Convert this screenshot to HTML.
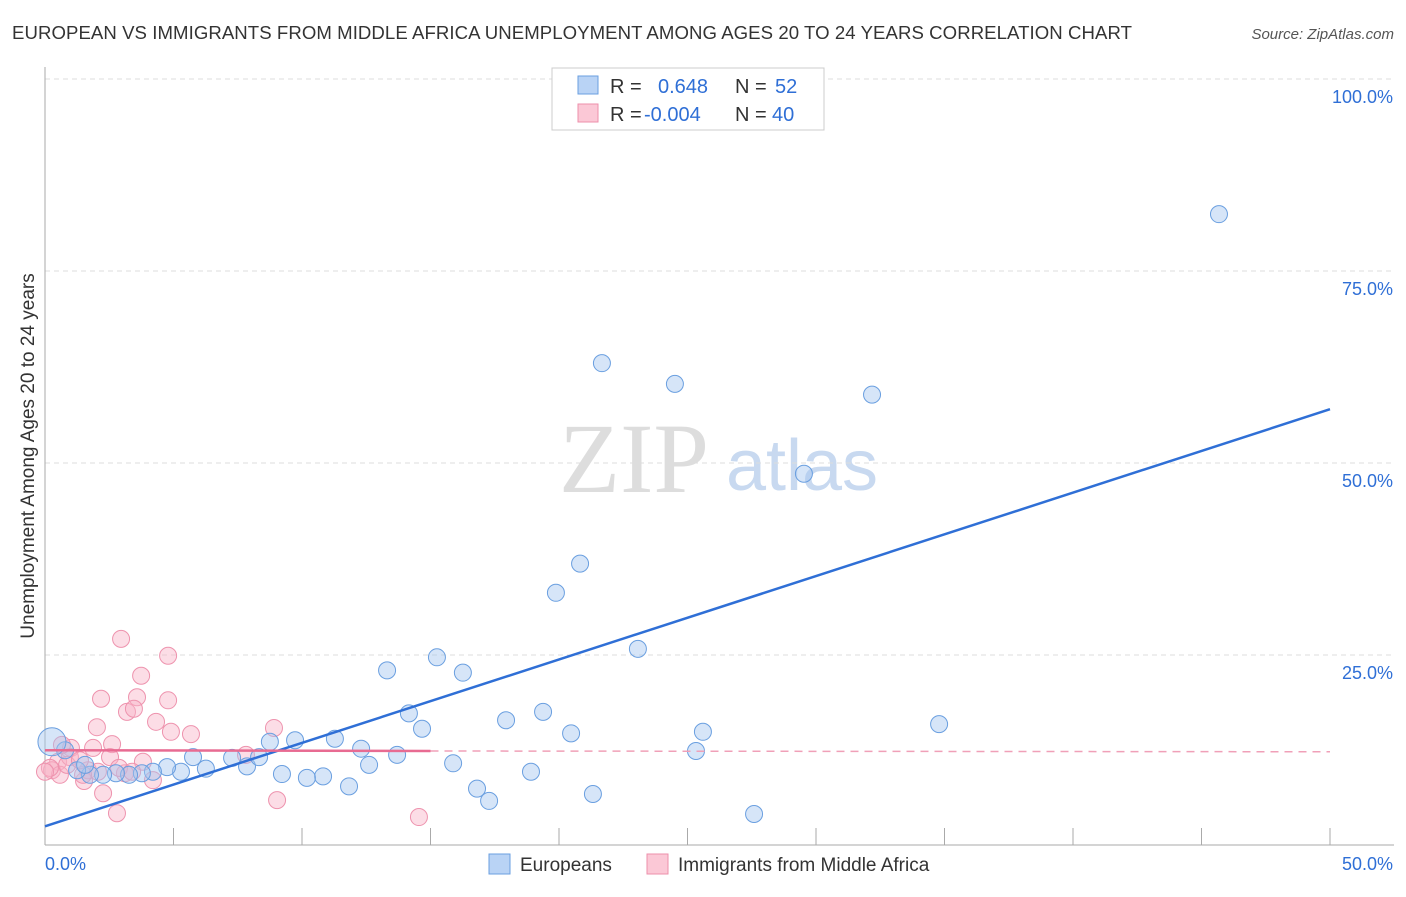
<!DOCTYPE html>
<html><head><meta charset="utf-8"><style>
body{margin:0;background:#fff;font-family:"Liberation Sans",sans-serif;}
</style></head><body>
<svg id="c" width="1406" height="892" xmlns="http://www.w3.org/2000/svg" font-family="Liberation Sans, sans-serif">
<text x="12" y="39" font-size="18.6" fill="#333" textLength="1120">EUROPEAN VS IMMIGRANTS FROM MIDDLE AFRICA UNEMPLOYMENT AMONG AGES 20 TO 24 YEARS CORRELATION CHART</text>
<text x="1394" y="39" font-size="15" fill="#555" text-anchor="end" font-style="italic">Source: ZipAtlas.com</text>
<text x="634" y="492" font-size="100" fill="#ddd" style="font-family:'Liberation Serif',serif" text-anchor="middle">ZIP</text>
<text x="802" y="490" font-size="72" fill="#c8d9f0" text-anchor="middle">atlas</text>
<text transform="translate(34,456) rotate(-90)" font-size="19" fill="#333" text-anchor="middle">Unemployment Among Ages 20 to 24 years</text>
<g id="grid"></g><g id="pts"></g><g id="lines"></g>
<g>
<rect x="552" y="68" width="272" height="62" fill="#fff" stroke="#ccc"/>
<rect x="578" y="76" width="20" height="18" fill="#b9d3f5" stroke="#6a9fe0"/>
<rect x="578" y="104" width="20" height="18" fill="#fbc8d6" stroke="#ee8fab"/>
<text x="610" y="93" font-size="20" fill="#333">R = <tspan x="658" fill="#2f6fd6">0.648</tspan><tspan x="735" fill="#333">N = </tspan><tspan x="775" fill="#2f6fd6">52</tspan></text>
<text x="610" y="121" font-size="20" fill="#333">R = <tspan x="644" fill="#2f6fd6">-0.004</tspan><tspan x="735" fill="#333">N = </tspan><tspan x="772" fill="#2f6fd6">40</tspan></text>
</g>
<g>
<rect x="489" y="854" width="21" height="20" fill="#b9d3f5" stroke="#6a9fe0"/>
<text x="520" y="871" font-size="19" fill="#333">Europeans</text>
<rect x="647" y="854" width="21" height="20" fill="#fbc8d6" stroke="#ee8fab"/>
<text x="678" y="871" font-size="19" fill="#333">Immigrants from Middle Africa</text>
</g>
</svg>
<script>
const yTicks=[25,50,75,100];
const yTickLabels=["25.0%","50.0%","75.0%","100.0%"];
const xTickLabels=["0.0%","50.0%"];
const blueX=[45.68,21.67,24.51,32.18,29.53,20.82,19.88,23.07,15.25,16.26,13.31,14.16,17.94,19.38,14.67,20.47,25.6,34.79,25.33,8.75,9.73,11.28,12.30,13.70,12.61,15.88,18.91,16.81,17.28,21.32,27.59,11.83,10.82,10.19,9.22,7.86,7.28,8.33,6.26,5.76,5.29,4.75,4.20,3.77,3.27,2.76,2.26,1.75,1.25,0.78,0.27,1.56];
const blueY=[82.4,63.0,60.3,58.9,48.6,36.9,33.1,25.8,24.7,22.7,23.0,17.4,16.5,17.6,15.4,14.8,15.0,16.0,12.5,13.7,13.9,14.1,12.8,12.0,10.7,10.9,9.8,7.6,6.0,6.9,4.3,7.9,9.2,9.0,9.5,10.5,11.6,11.7,10.2,11.7,9.8,10.4,9.8,9.6,9.4,9.6,9.4,9.4,10.0,12.6,13.7,10.7];
const pinkX=[2.96,4.79,3.74,2.18,3.58,4.79,3.19,3.46,4.32,5.68,4.90,2.02,8.91,2.61,1.87,1.01,0.51,0.97,3.81,7.82,2.53,3.11,4.20,1.52,2.26,2.80,9.03,14.55,0.27,0.58,0.19,1.67,2.06,1.48,0.86,2.88,3.39,0.0,1.36,0.66];
const pinkY=[27.1,24.9,22.3,19.3,19.5,19.1,17.6,18.0,16.3,14.7,15.0,15.6,15.5,13.4,12.9,12.9,11.1,11.7,11.1,12.0,11.7,9.6,8.7,8.6,7.0,4.4,6.1,3.9,10.0,9.4,10.3,10.0,9.8,9.4,10.7,10.3,9.8,9.8,11.3,13.3];
const blueTrend=[[0,2.7],[50,57.0]];
const pinkTrend=[[0,12.6],[15,12.5],[50,12.4]];
const NS="http://www.w3.org/2000/svg";
const X=v=>45+v/50*1285, Y=v=>847-v/100*768;
function mk(t,a,p){const e=document.createElementNS(NS,t);for(const k in a)e.setAttribute(k,a[k]);p.appendChild(e);return e;}
const g=document.getElementById('grid');
yTicks.forEach((t,i)=>{
 const l=mk('line',{x1:45,x2:1394,y1:Y(t),y2:Y(t),stroke:'#ddd','stroke-dasharray':'5,4'},g);
 
 
 const tx=mk('text',{x:1393,y:Y(t)+24,'font-size':18,fill:'#2f6fd6','text-anchor':'end'},g);
 tx.textContent=yTickLabels[i];
 
 
});
let ax=mk('line',{x1:45,x2:45,y1:67,y2:845,stroke:'#aaa'},g);


ax=mk('line',{x1:45,x2:1394,y1:845,y2:845,stroke:'#aaa'},g);


for(let v=5;v<=50;v+=5){const t=mk('line',{x1:X(v),x2:X(v),y1:828,y2:845,stroke:'#aaa'},g);
 
 }
[[0,'start'],[50,'end']].forEach((d,i)=>{const t=mk('text',{x:i?1393:45,y:870,'font-size':18,fill:'#2f6fd6','text-anchor':d[1]},g);t.textContent=xTickLabels[i];
 
 });
const p=document.getElementById('pts');
pinkX.forEach((x,i)=>{const c=mk('circle',{cx:X(x),cy:Y(pinkY[i]),r:8.5,fill:'rgba(248,180,200,0.45)',stroke:'#ee93ae','stroke-width':1},p);
 
 });
blueX.forEach((x,i)=>{const c=mk('circle',{cx:X(x),cy:Y(blueY[i]),r:i==50?14:8.5,fill:'rgba(165,198,240,0.45)',stroke:'#6a9fe0','stroke-width':1},p);
 
 });
const L=document.getElementById('lines');
let ln=mk('line',{x1:X(blueTrend[0][0]),y1:Y(blueTrend[0][1]),x2:X(blueTrend[1][0]),y2:Y(blueTrend[1][1]),stroke:'#2f6fd6','stroke-width':2.5},L);


ln=mk('line',{x1:X(pinkTrend[0][0]),y1:Y(pinkTrend[0][1]),x2:X(pinkTrend[1][0]),y2:Y(pinkTrend[1][1]),stroke:'#e86b92','stroke-width':2.5},L);


ln=mk('line',{x1:X(pinkTrend[1][0]),y1:Y(pinkTrend[1][1]),x2:X(pinkTrend[2][0]),y2:Y(pinkTrend[2][1]),stroke:'#f0a0b8','stroke-width':1.5,'stroke-dasharray':'8,6'},L);


</script>
</body></html>
